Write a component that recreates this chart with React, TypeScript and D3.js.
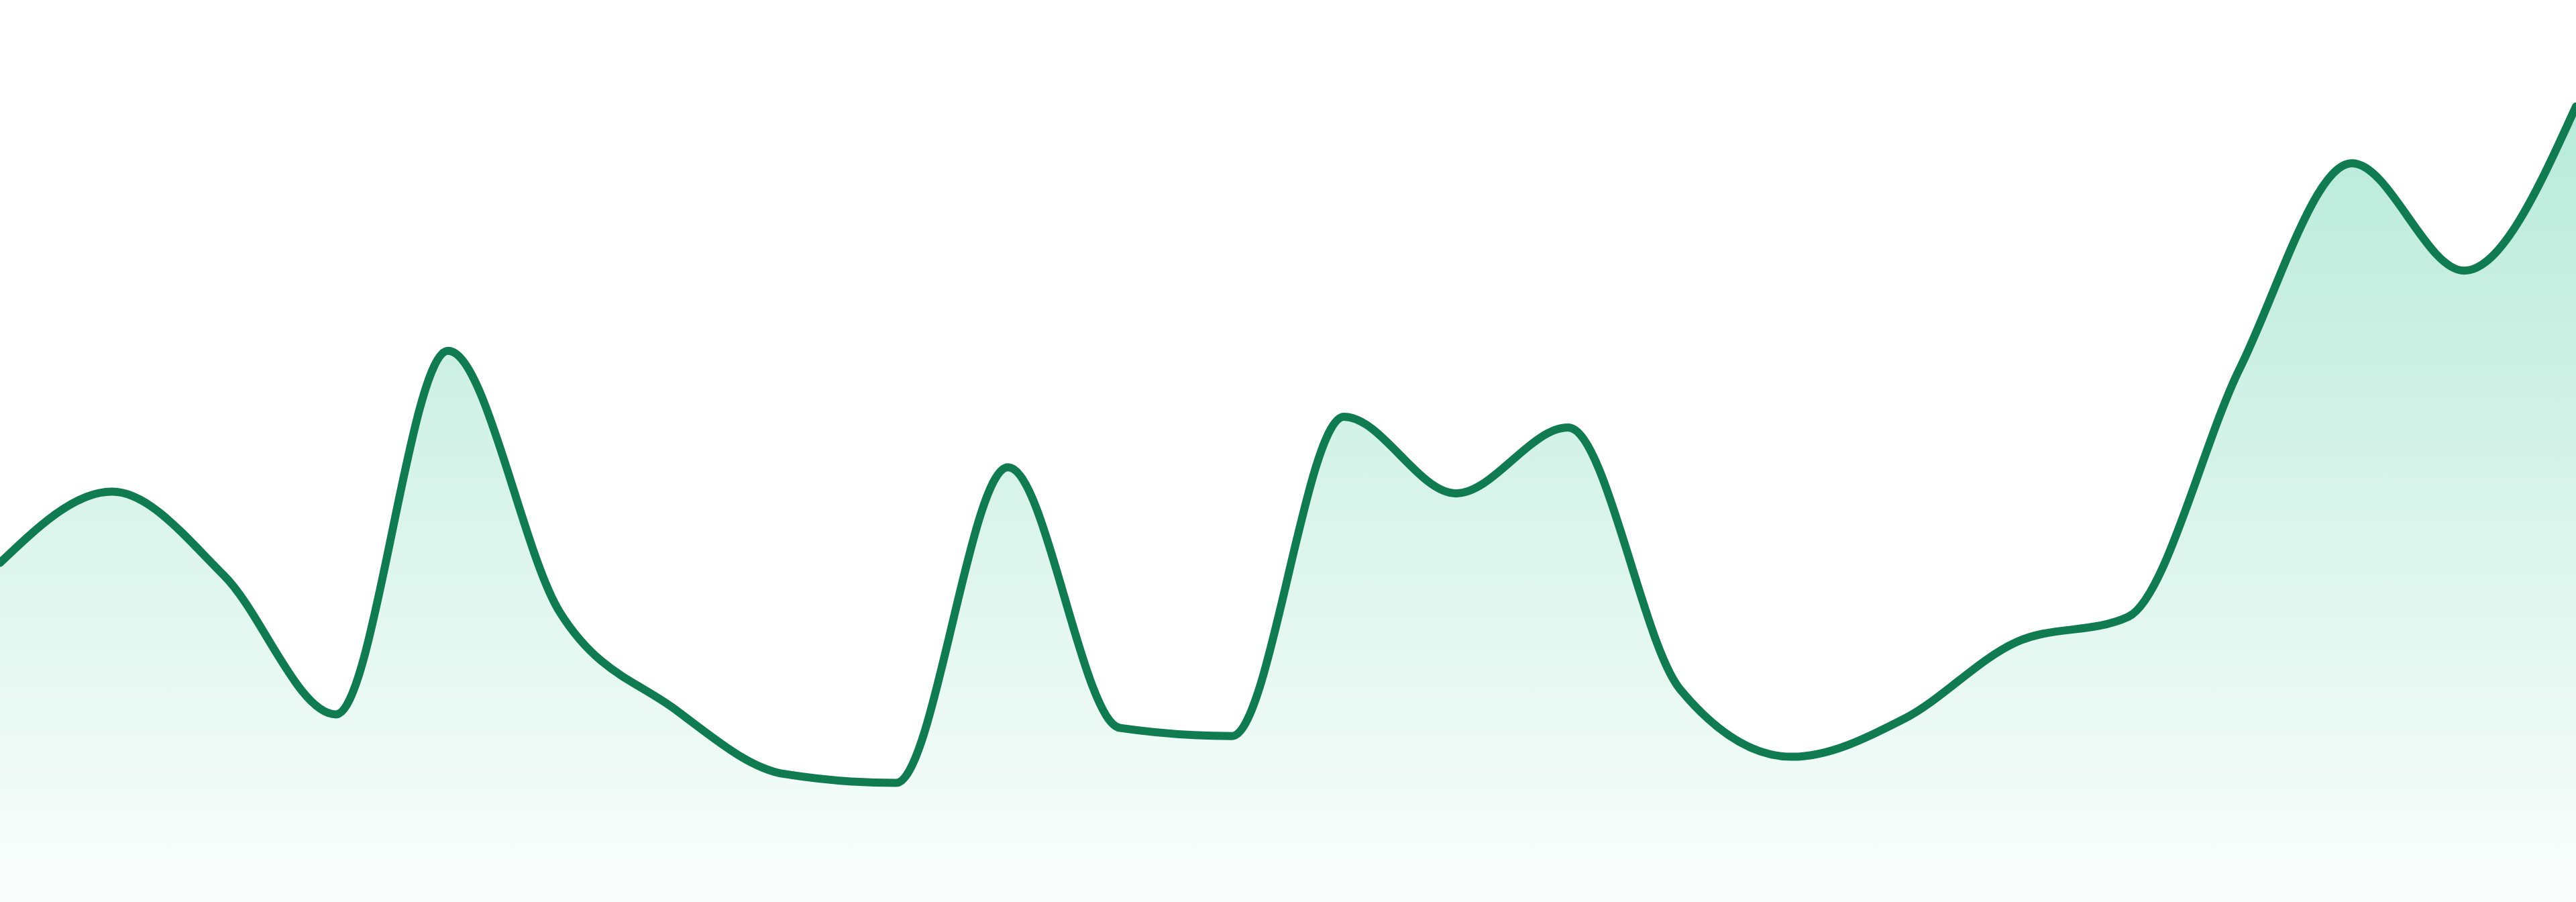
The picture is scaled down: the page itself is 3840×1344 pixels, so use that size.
import React from "react";
import * as d3 from "d3";

const W = 3840;
const H = 1344;

// x positions are sequential sample indices
const labels: number[] = Array.from({ length: 24 }, (_, i) => i);
const values: number[] = [
  37.6, 45.5, 36.2, 20.8, 61.1, 32.1, 21.6, 14.2, 13.2, 48.2, 19.3, 18.4,
  53.8, 45.3, 52.6, 23.6, 16.1, 20.3, 28.8, 31.6, 59.2, 81.9, 70.0, 88.2,
];
const yDomain: [number, number] = [0, 100];

const LINE_COLOR = "#107b50";
const FILL_COLOR = "#10b981";

export default function App() {
  const x = d3.scaleLinear().domain([0, labels.length - 1]).range([0, W]);
  const y = d3.scaleLinear().domain(yDomain).range([H, 0]);

  const line = d3
    .line<number>()
    .x((_, i) => x(labels[i]))
    .y((d) => y(d))
    .curve(d3.curveMonotoneX);

  const area = d3
    .area<number>()
    .x((_, i) => x(labels[i]))
    .y0(H)
    .y1((d) => y(d))
    .curve(d3.curveMonotoneX);

  const topY = y(d3.max(values) as number);

  return (
    <svg
      width={W}
      height={H}
      style={{ position: "fixed", left: 0, top: 0, display: "block", background: "#ffffff" }}
    >
      <defs>
        <linearGradient id="areaGrad" gradientUnits="userSpaceOnUse" x1={0} y1={topY} x2={0} y2={H}>
          <stop offset="0%" stopColor={FILL_COLOR} stopOpacity={0.3} />
          <stop offset="100%" stopColor={FILL_COLOR} stopOpacity={0.02} />
        </linearGradient>
      </defs>
      <path d={area(values) ?? ""} fill="url(#areaGrad)" stroke="none" />
      <path
        d={line(values) ?? ""}
        fill="none"
        stroke={LINE_COLOR}
        strokeWidth={12}
        strokeLinejoin="round"
        strokeLinecap="round"
      />
    </svg>
  );
}
